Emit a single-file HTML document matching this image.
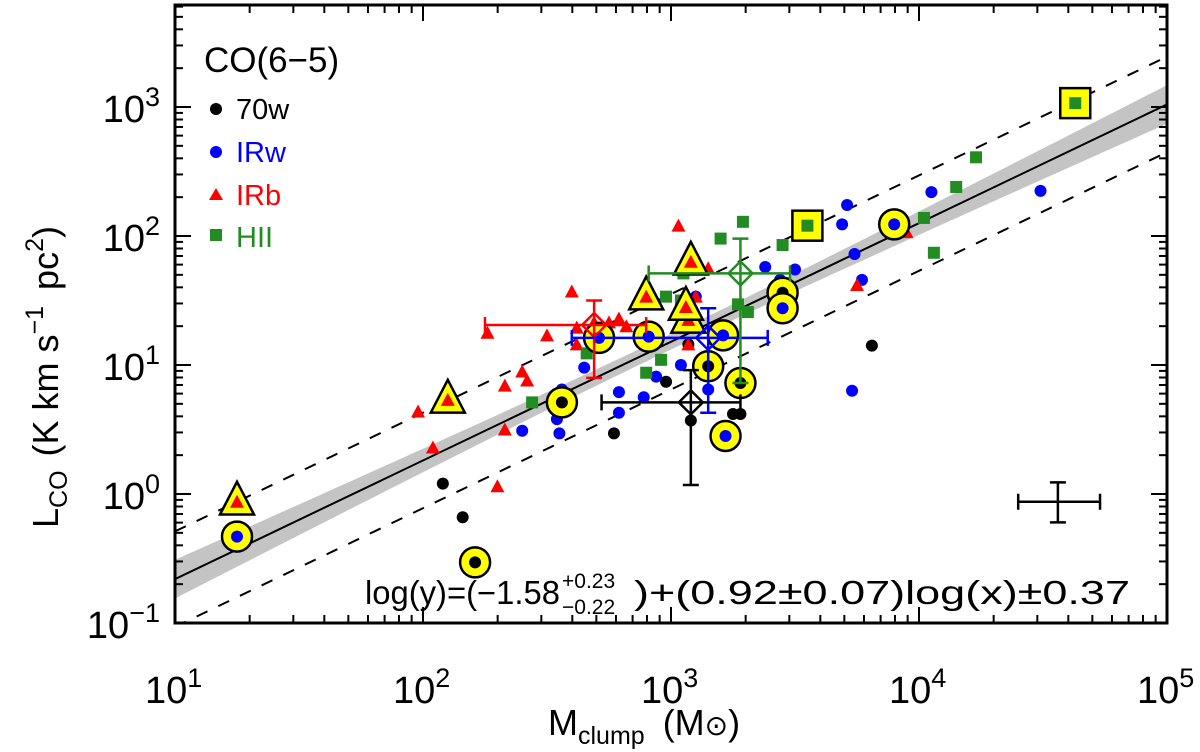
<!DOCTYPE html>
<html><head><meta charset="utf-8">
<style>
html,body{margin:0;padding:0;background:#fff;}
svg{display:block;font-family:"Liberation Sans","DejaVu Sans",sans-serif;}
</style></head>
<body>
<svg id="chart" width="1200" height="752" viewBox="0 0 1200 752"></svg>
<script>
// data (log10 M_clump, log10 L_CO)
const blackX=[2.08,2.16,2.77,2.98,3.07,3.08,3.25,3.28,3.81,3.44];
const blackY=[0.08,-0.18,0.47,0.87,1.16,0.57,0.62,0.62,1.15,1.58];
const blackHX=[2.21,2.56,3.15,3.28,3.45];
const blackHY=[-0.53,0.71,0.99,0.86,1.56];
const blueX=[2.65,2.40,2.55,2.54,2.56,2.79,2.79,2.89,2.94,3.04,3.17,3.15,3.38,3.50,3.44,3.71,3.69,4.05,3.74,3.77,3.73,4.49,3.10];
const blueY=[0.98,0.49,0.47,0.58,0.81,0.79,0.63,0.75,0.91,1.00,1.01,0.81,1.76,1.74,1.66,2.24,2.09,2.34,1.86,1.66,0.80,2.35,1.53];
const blueHX=[1.25,2.71,2.91,3.21,3.45,3.90,3.22];
const blueHY=[-0.33,1.21,1.22,1.23,1.44,2.09,0.45];
const redX=[2.26,2.50,2.60,2.40,2.42,2.33,1.98,2.33,2.04,2.62,2.62,2.69,2.75,2.79,2.82,2.90,2.94,3.03,3.15,3.10,3.06,3.07,2.30,3.75,3.95];
const redY=[1.25,1.23,1.57,0.95,0.88,0.84,0.64,0.50,0.36,1.29,1.16,1.33,1.33,1.36,1.30,1.29,1.27,2.08,1.75,1.53,1.43,1.16,0.06,1.62,2.03];
const redHX=[1.25,2.10,2.90,3.08,3.07,3.06];
const redHY=[-0.06,0.73,1.53,1.80,1.35,1.45];
const greenX=[2.44,2.66,2.90,2.96,2.98,3.04,3.20,3.29,3.45,3.27,3.31,3.05,3.05,4.02,4.15,4.23,4.06];
const greenY=[0.71,1.09,0.94,1.04,1.53,1.50,1.98,2.11,1.93,1.47,1.41,1.71,1.50,2.14,2.38,2.61,1.87];
const greenHX=[3.55,4.63];
const greenHY=[2.08,3.03];
// median points with error bars: [x, y, xlo, xhi, ylo, yhi]
const errRed=[2.69,1.31,2.25,2.90,0.90,1.50];
const errBlue=[3.15,1.21,2.60,3.39,0.63,1.44];
const errGreen=[3.28,1.71,2.91,3.48,0.86,1.98];
const errBlack=[3.08,0.71,2.72,3.28,0.07,0.96];
const errTypical=[4.56,-0.06,4.40,4.73,-0.22,0.09];
const fitA=-1.58, fitB=0.92, fitScatter=0.37;
const xTicks=[1,2,3,4,5];
const yTicks=[-1,0,1,2,3];

const svg=document.getElementById('chart');
const NS='http://www.w3.org/2000/svg';
const L=175,R=1167,T=5,B=623;
const X0=1,X1=5,Y0=-1,Y1=(B-T)/129-1;
const sx=v=>L+(v-X0)/(X1-X0)*(R-L);
const sy=v=>B-(v-Y0)/(Y1-Y0)*(B-T);
function el(tag,attrs,parent){const e=document.createElementNS(NS,tag);for(const k in attrs)e.setAttribute(k,attrs[k]);(parent||svg).appendChild(e);return e;}

const defs=el('defs',{});
const cp=el('clipPath',{id:'clip'},defs);
el('rect',{x:L,y:T,width:R-L,height:B-T},cp);
const plot=el('g',{'clip-path':'url(#clip)'});



let up=[],dn=[];
for(let i=0;i<=80;i++){const lx=X0+(X1-X0)*i/80;const w=Math.sqrt(0.0036+0.0047*(lx-3)*(lx-3));const ly=fitA+fitB*lx;up.push(sx(lx)+','+sy(ly+w));dn.unshift(sx(lx)+','+sy(ly-w));}
const band=el('polygon',{points:up.concat(dn).join(' '),fill:'#c4c4c4'},plot);


const fit=el('line',{x1:sx(X0),y1:sy(fitA+fitB*X0),x2:sx(X1),y2:sy(fitA+fitB*X1),stroke:'#000','stroke-width':2},plot);


[fitScatter,-fitScatter].forEach(d=>{
  const l=el('line',{x1:sx(X0),y1:sy(fitA+fitB*X0+d),x2:sx(X1),y2:sy(fitA+fitB*X1+d),stroke:'#000','stroke-width':2,'stroke-dasharray':'12,12'},plot);
  
  
});

function marker(type,color,x,y,hl){
  const cx=sx(x),cy=sy(y);
  const g=el('g',{},plot);
  if(hl){
    if(type==='tri'){const s=17;el('polygon',{points:`${cx},${cy-s-3} ${cx-s},${cy+s*0.75} ${cx+s},${cy+s*0.75}`,fill:'#ffff00',stroke:'#000','stroke-width':2.5},g);}
    else if(type==='sq'){el('rect',{x:cx-15,y:cy-15,width:30,height:30,fill:'#ffff00',stroke:'#000','stroke-width':2.5},g);}
    else el('circle',{cx:cx,cy:cy,r:15,fill:'#ffff00',stroke:'#000','stroke-width':2.5},g);
  }
  if(type==='dot')el('circle',{cx:cx,cy:cy,r:6,fill:color},g);
  else if(type==='tri')el('polygon',{points:`${cx},${cy-7} ${cx-7},${cy+6} ${cx+7},${cy+6}`,fill:color},g);
  else el('rect',{x:cx-6,y:cy-6,width:12,height:12,fill:color},g);
  return g;
}
function series(xs,ys,type,color,hl,name){
  xs.forEach((x,i)=>{const g=marker(type,color,x,ys[i],hl);
    
    });
}
series(blackX,blackY,'dot','#000',false,'point-70w');
series(blueX,blueY,'dot','#0000ff',false,'point-irw');
series(redX,redY,'tri','#ff0000',false,'point-irb');
series(greenX,greenY,'sq','#228b22',false,'point-hii');
series(blackHX,blackHY,'dot','#000',true,'highlighted-point-70w');
series(blueHX,blueHY,'dot','#0000ff',true,'highlighted-point-irw');
series(redHX,redHY,'tri','#ff0000',true,'highlighted-point-irb');
series(greenHX,greenHY,'sq','#228b22',true,'highlighted-point-hii');

function errbar(d,color,name,diamond){
  const g=el('g',{stroke:color,'stroke-width':2.5,fill:'none'},plot);
  
  
  const cx=sx(d[0]),cy=sy(d[1]);
  el('line',{x1:sx(d[2]),y1:cy,x2:sx(d[3]),y2:cy},g);
  el('line',{x1:cx,y1:sy(d[4]),x2:cx,y2:sy(d[5])},g);
  el('line',{x1:sx(d[2]),y1:cy-8,x2:sx(d[2]),y2:cy+8},g);
  el('line',{x1:sx(d[3]),y1:cy-8,x2:sx(d[3]),y2:cy+8},g);
  el('line',{x1:cx-8,y1:sy(d[4]),x2:cx+8,y2:sy(d[4])},g);
  el('line',{x1:cx-8,y1:sy(d[5]),x2:cx+8,y2:sy(d[5])},g);
  if(diamond)el('polygon',{points:`${cx},${cy-12} ${cx+12},${cy} ${cx},${cy+12} ${cx-12},${cy}`},g);
}
errbar(errRed,'#ff0000','median-errorbar-irb',true);
errbar(errBlue,'#0000ff','median-errorbar-irw',true);
errbar(errGreen,'#228b22','median-errorbar-hii',true);
errbar(errBlack,'#000','median-errorbar-70w',true);
errbar(errTypical,'#000','typical-errorbar',false);

const frame=el('rect',{x:L,y:T,width:R-L,height:B-T,fill:'none',stroke:'#000','stroke-width':3});


const ticks=el('g',{stroke:'#000','stroke-width':2});


for(let d=X0;d<X1;d++)for(let m=1;m<10;m++){const x=sx(d+Math.log10(m));const len=m===1?16:8;
  el('line',{x1:x,y1:B,x2:x,y2:B-len},ticks);el('line',{x1:x,y1:T,x2:x,y2:T+len},ticks);}
for(let d=Y0;d<4;d++)for(let m=1;m<10;m++){const v=d+Math.log10(m);if(v>Y1)break;const y=sy(v);const len=m===1?16:8;
  el('line',{x1:L,y1:y,x2:L+len,y2:y},ticks);el('line',{x1:R,y1:y,x2:R-len,y2:y},ticks);}

function tickLabel(x,y,exp,anchor,name){
  const t=el('text',{x:x,y:y,'font-size':38,'text-anchor':anchor,fill:'#000'});
  
  
  const a=el('tspan',{},t);a.textContent='10';
  const b=el('tspan',{dy:-16,'font-size':27},t);b.textContent=exp;
}
xTicks.forEach(v=>tickLabel(sx(v)-30,703,String(v),'start','x-tick-label'));
yTicks.forEach(v=>tickLabel(160,sy(v)+15,v<0?'\u2212'+(-v):String(v),'end','y-tick-label'));
</script>
<script>
const s2=document.getElementById('chart');
s2.insertAdjacentHTML('beforeend',`
<text x="548" y="735" font-size="36" fill="#000">M<tspan font-size="25" dy="9">clump</tspan><tspan dy="-9" dx="18">(M</tspan><tspan font-size="28">⊙</tspan><tspan>)</tspan></text>
<text transform="translate(58,528) rotate(-90)" font-size="36" fill="#000">L<tspan font-size="25" dy="9">CO</tspan><tspan dy="-9" dx="14">(K km s</tspan><tspan font-size="25" dy="-15">−1</tspan><tspan dy="15" dx="16">pc</tspan><tspan font-size="25" dy="-15">2</tspan><tspan dy="15">)</tspan></text>
<g>
<text x="204" y="72" font-size="35" fill="#000">CO(6−5)</text>
<circle cx="216" cy="109" r="6" fill="#000"/>
<text x="236" y="119" font-size="29" fill="#000">70w</text>
<circle cx="216" cy="152" r="6" fill="#0000ff"/>
<text x="236" y="162" font-size="29" fill="#0000ff">IRw</text>
<polygon points="216,188 209,200 223,200" fill="#ff0000"/>
<text x="236" y="205" font-size="29" fill="#ff0000">IRb</text>
<rect x="210" y="229" width="12" height="12" fill="#228b22"/>
<text x="236" y="247" font-size="29" fill="#228b22">HII</text>
</g>
<g fill="#000">
<text x="365" y="604" font-size="33" textLength="195" lengthAdjust="spacingAndGlyphs">log(y)=(−1.58</text>
<text x="562" y="588" font-size="21">+0.23</text>
<text x="562" y="614" font-size="21">−0.22</text>
<text x="634" y="604" font-size="33" textLength="496" lengthAdjust="spacingAndGlyphs">)+(0.92±0.07)log(x)±0.37</text>
</g>
`);
</script>
</body></html>
